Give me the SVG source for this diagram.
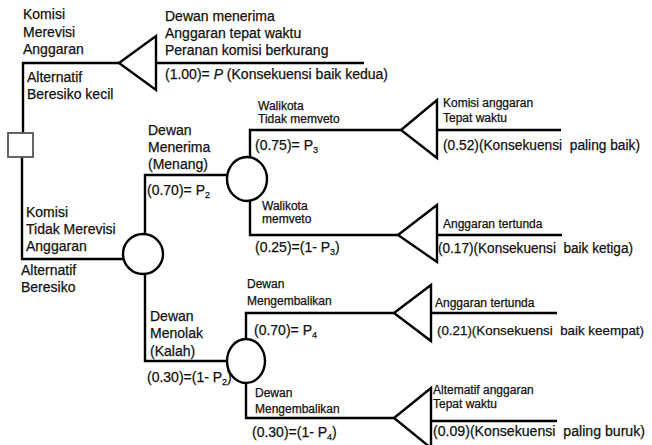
<svg xmlns="http://www.w3.org/2000/svg" width="652" height="445" viewBox="0 0 652 445">
<style>
.ln{fill:none;stroke:#000;stroke-width:2.4;}
.nd{fill:#fff;stroke:#000;stroke-width:2.4;}
.sq{fill:#fff;stroke:#555;stroke-width:1.8;}
text{font-family:"Liberation Sans",Arial,sans-serif;fill:#111;stroke:#111;stroke-width:0.25;white-space:pre;}
.t{font-size:14px;}
.s{font-size:12px;}
.sub{font-size:9px;}
</style>
<rect width="652" height="445" fill="#fff"/>
<g id="connectors">
<path class="ln" d="M23,133 V63 H119"/>
<path class="ln" d="M22,157 V259 H123"/>
<path class="ln" d="M156,63 H364"/>
<path class="ln" d="M145,234 V175 H227"/>
<path class="ln" d="M145,274 V361 H227"/>
<path class="ln" d="M250,157 V130 H401"/>
<path class="ln" d="M250,201 V235 H398"/>
<path class="ln" d="M246,339 V313 H394"/>
<path class="ln" d="M246,383 V418 H394"/>
<path class="ln" d="M437,130 H561"/>
<path class="ln" d="M437,235 H562"/>
<path class="ln" d="M431,313 H557"/>
<path class="ln" d="M431,421 H557"/>
</g>
<g id="decision">
<rect class="sq" x="8" y="133" width="25" height="24"/>
</g>
<g id="chance1"><ellipse class="nd" cx="143" cy="254" rx="20" ry="20"/></g>
<g id="chance2"><ellipse class="nd" cx="247" cy="179" rx="20" ry="22"/></g>
<g id="chance3"><ellipse class="nd" cx="246" cy="361" rx="19" ry="22"/></g>
<g id="end1"><polygon class="nd" points="119,63 156,36 156,90"/></g>
<g id="end2"><polygon class="nd" points="401,130 437,100 437,158"/></g>
<g id="end3"><polygon class="nd" points="398,235 437,205 437,262"/></g>
<g id="end4"><polygon class="nd" points="394,313 431,285 431,341"/></g>
<g id="end5"><polygon class="nd" points="394,418 431,388 431,448"/></g>
<g id="labels" xml:space="preserve">
<text class="t" x="23" y="19">Komisi</text>
<text class="t" x="23" y="37">Merevisi</text>
<text class="t" x="23" y="54">Anggaran</text>
<text class="t" x="27" y="82">Alternatif</text>
<text class="t" x="27" y="99">Beresiko kecil</text>
<text class="t" x="165" y="21">Dewan menerima</text>
<text class="t" x="165" y="38">Anggaran tepat waktu</text>
<text class="t" x="165" y="55">Peranan komisi berkurang</text>
<text class="t" x="165" y="79">(1.00)= <tspan font-style="italic">P</tspan> (Konsekuensi baik kedua)</text>
<text class="s" x="258" y="110">Walikota</text>
<text class="s" x="258" y="123">Tidak memveto</text>
<text class="t" x="255" y="150">(0.75)= P<tspan class="sub" dy="3">3</tspan></text>
<text class="t" x="148" y="135">Dewan</text>
<text class="t" x="148" y="152">Menerima</text>
<text class="t" x="148" y="169">(Menang)</text>
<text class="t" x="147" y="195">(0.70)= P<tspan class="sub" dy="3">2</tspan></text>
<text class="t" x="26" y="217">Komisi</text>
<text class="t" x="26" y="234">Tidak Merevisi</text>
<text class="t" x="26" y="251">Anggaran</text>
<text class="t" x="21" y="275">Alternatif</text>
<text class="t" x="21" y="292">Beresiko</text>
<text class="s" x="262" y="210">Walikota</text>
<text class="s" x="262" y="223">memveto</text>
<text class="t" x="255" y="252">(0.25)=(1- P<tspan class="sub" dy="3">3</tspan><tspan dy="-3">)</tspan></text>
<text class="s" x="443" y="107">Komisi anggaran</text>
<text class="s" x="443" y="122">Tepat waktu</text>
<text class="t" x="443" y="150" textLength="197" lengthAdjust="spacingAndGlyphs">(0.52)(Konsekuensi  paling baik)</text>
<text class="s" x="443" y="228">Anggaran tertunda</text>
<text class="t" x="438" y="253" textLength="195" lengthAdjust="spacingAndGlyphs">(0.17)(Konsekuensi  baik ketiga)</text>
<text class="s" x="247" y="288">Dewan</text>
<text class="s" x="247" y="305">Mengembalikan</text>
<text class="t" x="254" y="335">(0.70)= P<tspan class="sub" dy="3">4</tspan></text>
<text class="t" x="150" y="321">Dewan</text>
<text class="t" x="150" y="338">Menolak</text>
<text class="t" x="150" y="356">(Kalah)</text>
<text class="t" x="147" y="382">(0.30)=(1- P<tspan class="sub" dy="3">2</tspan><tspan dy="-3">)</tspan></text>
<text class="s" x="255" y="397">Dewan</text>
<text class="s" x="255" y="413">Mengembalikan</text>
<text class="t" x="252" y="437">(0.30)=(1- P<tspan class="sub" dy="3">4</tspan><tspan dy="-3">)</tspan></text>
<text class="s" x="435" y="307">Anggaran tertunda</text>
<text x="437" y="335" font-size="13.5" textLength="207" lengthAdjust="spacingAndGlyphs">(0.21)(Konsekuensi  baik keempat)</text>
<text class="s" x="433" y="394">Altematif anggaran</text>
<text class="s" x="433" y="408">Tepat waktu</text>
<text class="t" x="433" y="436" textLength="212" lengthAdjust="spacingAndGlyphs">(0.09)(Konsekuensi  paling buruk)</text>
</g>
</svg>
